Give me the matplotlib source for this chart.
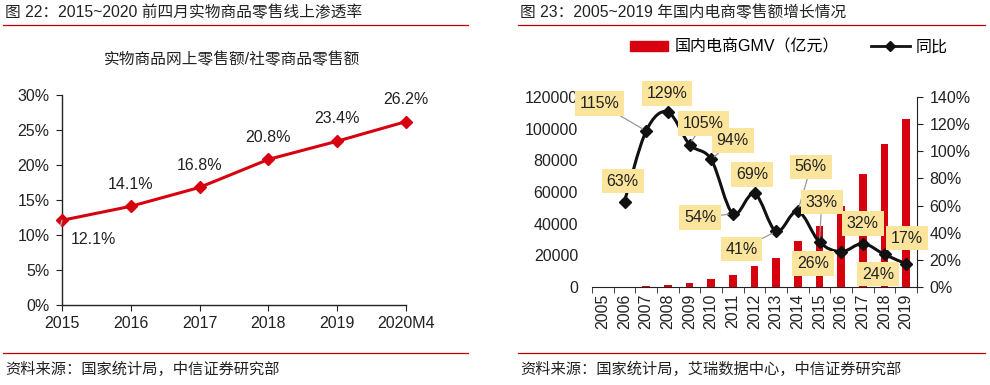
import numpy as np
import matplotlib.pyplot as plt
from matplotlib.path import Path
from matplotlib.patches import PathPatch, Patch
from matplotlib.lines import Line2D

plt.rcParams['font.family'] = ['Liberation Sans', 'Noto Sans CJK SC']

# ---- data ----
pen_years = ["2015", "2016", "2017", "2018", "2019", "2020M4"]
pen_rate = [12.1, 14.1, 16.8, 20.8, 23.4, 26.2]

gmv_years = ["2005", "2006", "2007", "2008", "2009", "2010", "2011", "2012",
             "2013", "2014", "2015", "2016", "2017", "2018", "2019"]
gmv = [160, 265, 570, 1300, 2600, 4900, 7800, 13000,
       18500, 29000, 38500, 51000, 71500, 90000, 106000]
yoy_years = gmv_years[1:]
yoy = [63, 115, 129, 105, 94, 54, 69, 41, 56, 33, 26, 32, 24, 17]

RED = "#D7000F"
YEL = "#FBE49B"
DARK = "#222222"
FS = 11.5

fig = plt.figure(figsize=(9.9, 3.85), dpi=100)
W, H = 990, 385


def fx(px):
    return px / W


def fy(py):
    return 1 - py / H


# ---- headers / footers ----
fig.text(fx(5), fy(13), "图 22：2015~2020 前四月实物商品零售线上渗透率", fontsize=11.3,
         va="center", ha="left", color=DARK)
fig.text(fx(520), fy(13), "图 23：2005~2019 年国内电商零售额增长情况", fontsize=11.3,
         va="center", ha="left", color=DARK)
for x0, x1 in [(3, 468), (518, 985)]:
    fig.add_artist(Line2D([fx(x0), fx(x1)], [fy(25), fy(25)], color="#C00000", lw=0.9))
    fig.add_artist(Line2D([fx(x0), fx(x1)], [fy(353), fy(353)], color="#C00000", lw=0.9))
fig.text(fx(5), fy(369), "资料来源：国家统计局，中信证券研究部", fontsize=11,
         va="center", ha="left", color=DARK)
fig.text(fx(520), fy(369), "资料来源：国家统计局，艾瑞数据中心，中信证券研究部", fontsize=11,
         va="center", ha="left", color=DARK)

# ---- left chart ----
ax = fig.add_axes([fx(62), fy(305), fx(406) - fx(62), fy(95) - fy(305)])
x = np.arange(len(pen_years))
ax.plot(x, pen_rate, color=RED, lw=2.2, marker="D", ms=6, clip_on=False, zorder=3)
ax.set_xlim(0, len(pen_years) - 1)
ax.set_ylim(0, 30)
ax.set_yticks(np.arange(0, 31, 5))
ax.set_yticklabels([f"{v}%" for v in range(0, 31, 5)])
ax.set_xticks(x)
ax.set_xticklabels(pen_years)
for s in ["top", "right"]:
    ax.spines[s].set_visible(False)
for s in ["left", "bottom"]:
    ax.spines[s].set_color(DARK)
    ax.spines[s].set_linewidth(1.0)
ax.tick_params(direction="out", length=4, labelsize=FS, colors=DARK)
ax.tick_params(axis="y", pad=5)
ax.tick_params(axis="x", pad=4)
for i, v in enumerate(pen_rate):
    if i == 0:
        ax.annotate(f"{v}%", xy=(i, v), xytext=(0.45, 9.4), textcoords="data",
                    fontsize=FS, ha="center", va="center", color=DARK,
                    arrowprops=dict(arrowstyle="-", color="#AAAAAA", lw=1,
                                    connectionstyle="angle,angleA=0,angleB=75,rad=0",
                                    shrinkA=11, shrinkB=0))
    else:
        ax.annotate(f"{v}%", xy=(i, v), xytext=(0, 16), textcoords="offset points",
                    fontsize=FS, ha="center", va="center", color=DARK)
fig.text(fx(232), fy(60), "实物商品网上零售额/社零商品零售额", fontsize=11.3,
         ha="center", va="center", color=DARK)

# ---- right chart ----
bx = fig.add_axes([fx(592), fy(287), fx(917) - fx(592), fy(97) - fy(287)])
xi = np.arange(len(gmv_years))
bx.bar(xi, gmv, width=0.36, color=RED, zorder=2)
bx.set_xlim(-0.5, len(gmv_years) - 0.5)
bx.set_ylim(0, 120000)
bx.set_yticks(np.arange(0, 120001, 20000))
bx.set_xticks(xi)
bx.set_xticklabels(gmv_years, rotation=90)
bx.set_xticks(np.arange(-0.5, len(gmv_years)), minor=True)
bx.tick_params(axis="x", which="major", length=0, pad=5, labelsize=FS, colors=DARK)
bx.tick_params(axis="x", which="minor", length=4, direction="out", color=DARK)
bx.tick_params(axis="y", length=0, labelsize=FS, colors=DARK, pad=10)
for s in ["top", "right", "left"]:
    bx.spines[s].set_visible(False)
bx.spines["bottom"].set_color(DARK)

ax2 = bx.twinx()
ax2.set_ylim(0, 140)
ax2.set_yticks(np.arange(0, 141, 20))
ax2.set_yticklabels([f"{v}%" for v in range(0, 141, 20)])
ax2.tick_params(axis="y", direction="out", length=4, labelsize=FS, colors=DARK, pad=5)
for s in ["top", "left", "bottom"]:
    ax2.spines[s].set_visible(False)
ax2.spines["right"].set_color(DARK)

# smooth line (Catmull-Rom as bezier) through the yoy points
px = np.arange(1, len(gmv_years), dtype=float)
py = np.array(yoy, dtype=float)
pts = np.column_stack([px, py])
verts = [pts[0]]
codes = [Path.MOVETO]
n = len(pts)
for i in range(n - 1):
    p0 = pts[max(i - 1, 0)]
    p1 = pts[i]
    p2 = pts[i + 1]
    p3 = pts[min(i + 2, n - 1)]
    c1 = p1 + (p2 - p0) / 6
    c2 = p2 - (p3 - p1) / 6
    verts += [c1, c2, p2]
    codes += [Path.CURVE4] * 3
ax2.add_patch(PathPatch(Path(verts, codes), fill=False, edgecolor="#111111", lw=2.2, zorder=3))
ax2.plot(px, py, ls="none", marker="D", ms=6, color="#111111", zorder=4)

# label positions (x index, y %) and whether to draw a leader
lab_pos = [(0.92, 78), (-0.15, 135), (2.95, 142.5), (4.65, 120.5), (6.0, 108),
           (4.5, 51), (6.9, 83), (6.4, 28), (9.6, 88.5), (10.1, 62.5),
           (9.7, 17.5), (12.0, 47), (12.7, 9.5), (14.05, 36)]
leader = [False, True, False, True, True, True, False, True, True, True,
          False, False, False, False]
for i, v in enumerate(yoy):
    lx, ly = lab_pos[i]
    kw = dict(fontsize=FS, ha="center", va="center", color=DARK, zorder=5,
              annotation_clip=False,
              bbox=dict(boxstyle="square,pad=0.3", fc=YEL, ec="none"))
    if leader[i]:
        kw["arrowprops"] = dict(arrowstyle="-", color="#999999", lw=0.9,
                                shrinkA=0, shrinkB=3)
    ax2.annotate(f"{v}%", xy=(px[i], py[i]), xytext=(lx, ly), textcoords="data", **kw)

handles = [Patch(color=RED), Line2D([], [], color="#111111", lw=2, marker="D", ms=5)]
fig.legend(handles, ["国内电商GMV（亿元）", "同比"], loc="center", ncol=2,
           bbox_to_anchor=(fx(789), fy(47)), frameon=False, fontsize=FS,
           handlelength=2.4, handleheight=0.6, columnspacing=2.0, handletextpad=0.4)

fig.savefig("out.png", dpi=100)
